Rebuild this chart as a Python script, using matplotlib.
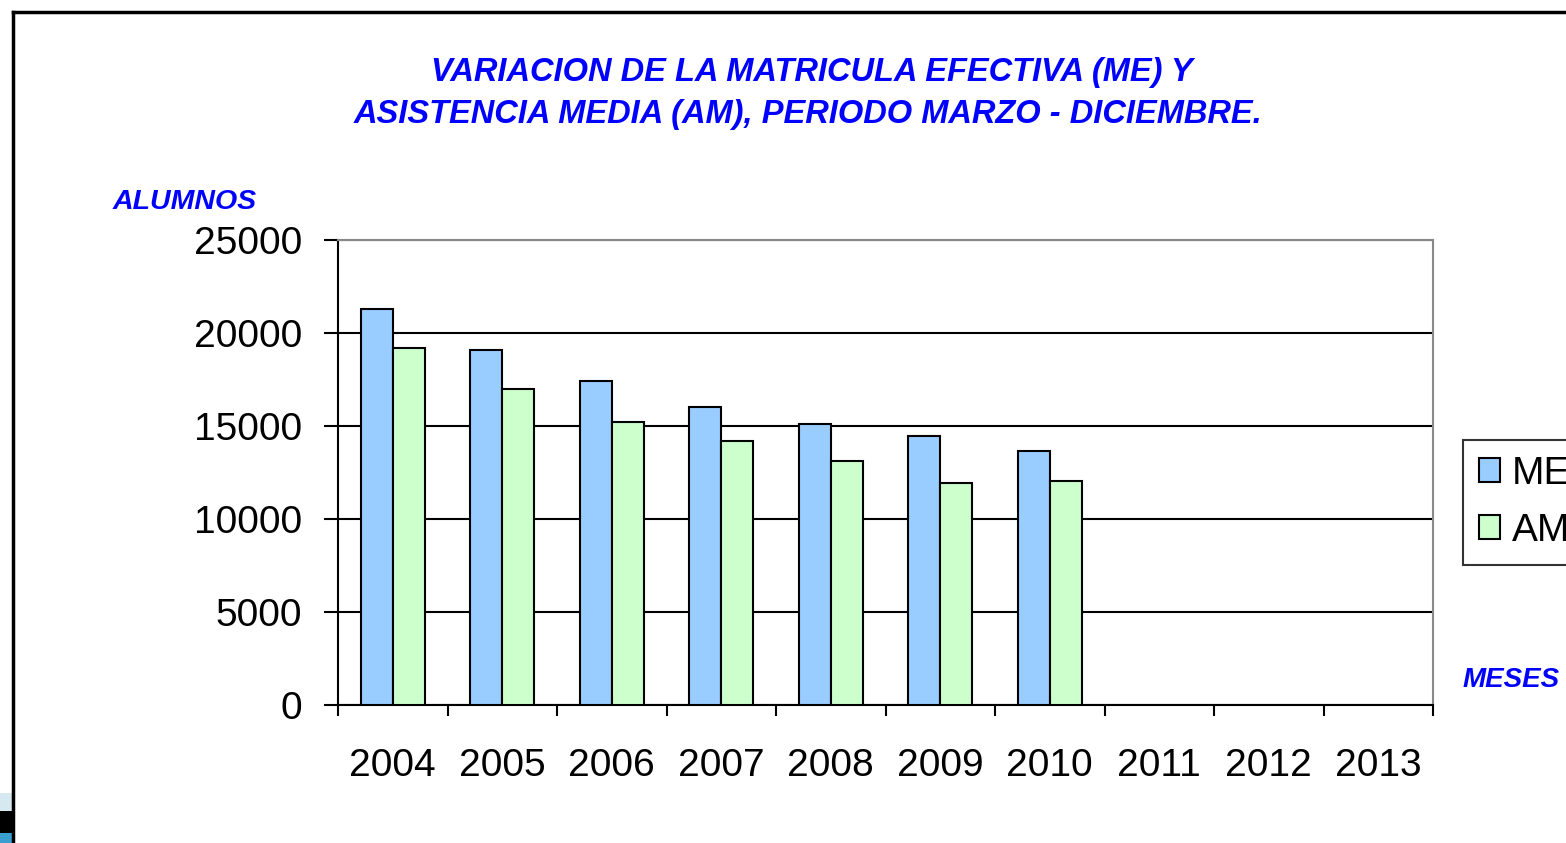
import matplotlib
matplotlib.use("Agg")
import matplotlib.pyplot as plt
import numpy as np
from matplotlib.patches import Rectangle, Patch
from matplotlib.lines import Line2D

# data
years = ["2004", "2005", "2006", "2007", "2008", "2009", "2010", "2011", "2012", "2013"]
me_values = [21300, 19100, 17400, 16000, 15100, 14450, 13650]
am_values = [19200, 17000, 15200, 14200, 13100, 11950, 12050]
y_ticks = [0, 5000, 10000, 15000, 20000, 25000]

ME_COLOR = "#99CCFF"
AM_COLOR = "#CCFFCC"
BLUE = "#0000FF"
FONT = "Liberation Sans"

plt.rcParams["font.family"] = [FONT, "DejaVu Sans"]

fig = plt.figure(figsize=(15.66, 8.43), dpi=100)
ax = fig.add_axes([338 / 1566, 1 - 705 / 843, (1433 - 338) / 1566, 465 / 843])

# bars: categories span [i, i+1], groups centred in each
bw = 0.29
x_me = np.arange(len(me_values)) + 0.5 - bw / 2
x_am = np.arange(len(am_values)) + 0.5 + bw / 2
ax.bar(x_me, me_values, width=bw, color=ME_COLOR, edgecolor="black", linewidth=1.5, zorder=3)
ax.bar(x_am, am_values, width=bw, color=AM_COLOR, edgecolor="black", linewidth=1.5, zorder=3)

ax.set_xlim(0, len(years))
ax.set_ylim(0, 25000)
ax.set_yticks(y_ticks)
ax.set_yticklabels([str(v) for v in y_ticks], fontsize=28)
ax.set_xticks(np.arange(len(years) + 1))
ax.set_xticklabels([])
ax.set_xticks(np.arange(len(years)) + 0.5, minor=True)
ax.set_xticklabels(years, minor=True, fontsize=28)
ax.tick_params(axis="x", which="minor", length=0, pad=31)
ax.tick_params(axis="x", which="major", length=8, width=1.5, direction="out")
ax.tick_params(axis="y", length=10, width=1.5, direction="out", pad=16)

ax.yaxis.grid(True, color="black", linewidth=1.5, zorder=1)
ax.set_axisbelow(True)
for side in ("left", "bottom"):
    ax.spines[side].set_linewidth(1.5)
    ax.spines[side].set_color("black")
for side in ("top", "right"):
    ax.spines[side].set_linewidth(1.5)
    ax.spines[side].set_color("#888888")

# titles / axis captions
fig.text(812 / 1566, 1 - 72 / 843, "VARIACION DE LA MATRICULA EFECTIVA (ME) Y",
         ha="center", va="center", color=BLUE, fontsize=23.5, fontweight="bold", style="italic")
fig.text(808 / 1566, 1 - 114 / 843, "ASISTENCIA MEDIA (AM), PERIODO MARZO - DICIEMBRE.",
         ha="center", va="center", color=BLUE, fontsize=23.5, fontweight="bold", style="italic")
fig.text(113 / 1566, 1 - 202 / 843, "ALUMNOS", ha="left", va="center", color=BLUE,
         fontsize=20.5, fontweight="bold", style="italic")
fig.text(1463 / 1566, 1 - 680 / 843, "MESES", ha="left", va="center", color=BLUE,
         fontsize=20, fontweight="bold", style="italic")

# legend (runs off the right edge like the reference)
handles = [Patch(facecolor=ME_COLOR, edgecolor="black", linewidth=1.5, label="ME"),
           Patch(facecolor=AM_COLOR, edgecolor="black", linewidth=1.5, label="AM")]
leg = fig.legend(handles=handles, loc="upper left", bbox_to_anchor=(1463 / 1566, 1 - 440 / 843),
                 fontsize=28, frameon=True, fancybox=False, edgecolor="black",
                 handlelength=0.55, handleheight=0.55, handletextpad=0.3,
                 borderpad=0.4, labelspacing=0.55, borderaxespad=0)
leg.get_frame().set_linewidth(1.5)

# outer slide frame
fig.add_artist(Line2D([13 / 1566, 13 / 1566], [0, 1 - 12 / 843], color="black", linewidth=2.5))
fig.add_artist(Line2D([13 / 1566, 1], [1 - 12 / 843, 1 - 12 / 843], color="black", linewidth=2.5))
# bit of slide decoration in the lower-left corner
fig.add_artist(Rectangle((0, 0), 12 / 1566, 50 / 843, transform=fig.transFigure,
                         facecolor="#D6E8F0", edgecolor="none"))
fig.add_artist(Rectangle((0, 10 / 843), 12 / 1566, 22 / 843, transform=fig.transFigure,
                         facecolor="black", edgecolor="none"))
fig.add_artist(Rectangle((0, 0), 12 / 1566, 10 / 843, transform=fig.transFigure,
                         facecolor="#3A9FD0", edgecolor="none"))

fig.savefig("out.png", dpi=100)
